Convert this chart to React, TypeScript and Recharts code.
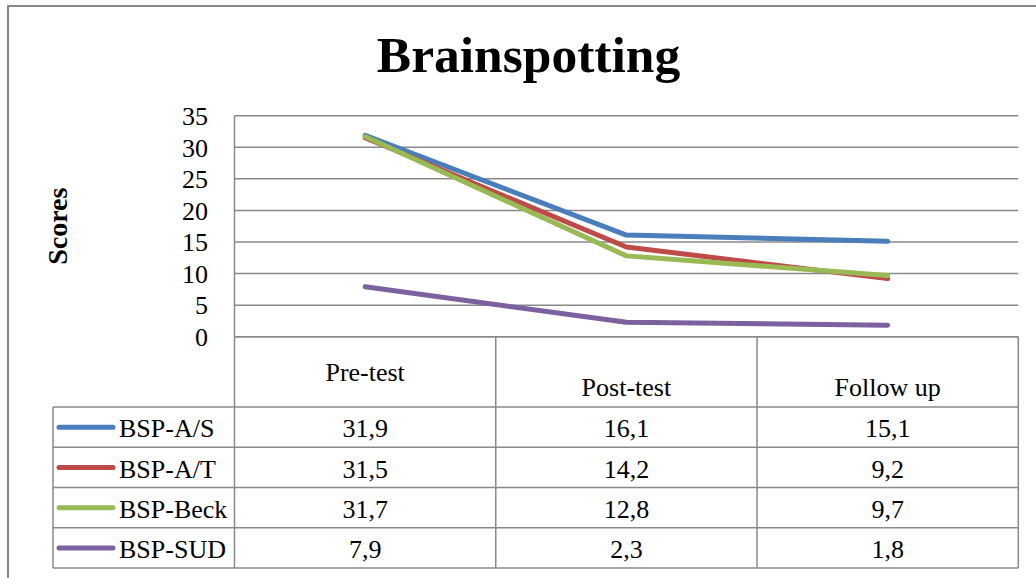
import { LineChart, Line, XAxis, YAxis, CartesianGrid } from "recharts";

const categories = ["Pre-test", "Post-test", "Follow up"];
const seriesNames = ["BSP-A/S", "BSP-A/T", "BSP-Beck", "BSP-SUD"];
const bspAS = [31.9, 16.1, 15.1];
const bspAT = [31.5, 14.2, 9.2];
const bspBeck = [31.7, 12.8, 9.7];
const bspSUD = [7.9, 2.3, 1.8];
const yTicks = [0, 5, 10, 15, 20, 25, 30, 35];

const seriesValues = [bspAS, bspAT, bspBeck, bspSUD];
const seriesKeys = ["as", "at", "beck", "sud"];
const colors = ["#4A7EBB", "#BE4B48", "#98B954", "#7D60A0"];

const data = categories.map((category, i) => {
  const row: Record<string, string | number> = { category };
  seriesKeys.forEach((k, s) => (row[k] = seriesValues[s][i]));
  return row;
});

// layout (px)
const W = 1036;
const H = 578;
const PLOT_LEFT = 234.5;
const PLOT_RIGHT = 1018.3;
const PLOT_TOP = 115.7;
const PLOT_BOTTOM = 336.7;
const TABLE_BOTTOM = 568;
const HEADER_BOTTOM = 407;
const LEGEND_LEFT = 53;
const ROW_H = (TABLE_BOTTOM - HEADER_BOTTOM) / seriesNames.length;
const BAND = (PLOT_RIGHT - PLOT_LEFT) / categories.length;
const XAXIS_H = TABLE_BOTTOM - PLOT_BOTTOM;

const FONT = '"Liberation Serif", "Times New Roman", serif';
const GRID = "#898989";

const fmt = (v: number) => v.toFixed(1).replace(".", ",");

const rowLines = [HEADER_BOTTOM, ...seriesNames.map((_, r) => HEADER_BOTTOM + ROW_H * (r + 1))];

const LegendColumn = () => (
  <g>
    <line x1={LEGEND_LEFT} y1={HEADER_BOTTOM} x2={LEGEND_LEFT} y2={TABLE_BOTTOM} stroke={GRID} strokeWidth={1.5} />
    {rowLines.map((y) => (
      <line key={y} x1={LEGEND_LEFT} y1={y} x2={PLOT_LEFT} y2={y} stroke={GRID} strokeWidth={1.5} />
    ))}
    {seriesNames.map((name, r) => {
      const cy = HEADER_BOTTOM + ROW_H * (r + 0.5);
      return (
        <g key={name}>
          <line x1={59} y1={cy} x2={113} y2={cy} stroke={colors[r]} strokeWidth={5} strokeLinecap="round" />
          <text x={119} y={HEADER_BOTTOM + ROW_H * (r + 1) - 10} fontFamily={FONT} fontSize={26} fill="#000">
            {name}
          </text>
        </g>
      );
    })}
  </g>
);

// one column of the data table under each category tick
const TableColumn = (props: any) => {
  const { x, index, payload } = props;
  const left = x - BAND / 2;
  const right = x + BAND / 2;
  return (
    <g>
      {index === 0 && <LegendColumn />}
      {index === 0 && (
        <line x1={left} y1={PLOT_BOTTOM} x2={left} y2={TABLE_BOTTOM} stroke={GRID} strokeWidth={1.5} />
      )}
      <line x1={right} y1={PLOT_BOTTOM} x2={right} y2={TABLE_BOTTOM} stroke={GRID} strokeWidth={1.5} />
      {rowLines.map((y) => (
        <line key={y} x1={left} y1={y} x2={right} y2={y} stroke={GRID} strokeWidth={1.5} />
      ))}
      <text x={x} y={index === 0 ? 381 : 396} textAnchor="middle" fontFamily={FONT} fontSize={26} fill="#000">
        {payload.value}
      </text>
      {seriesValues.map((vals, r) => (
        <text
          key={r}
          x={x}
          y={HEADER_BOTTOM + ROW_H * (r + 1) - 10}
          textAnchor="middle"
          fontFamily={FONT}
          fontSize={26}
          fill="#000"
        >
          {fmt(vals[index])}
        </text>
      ))}
    </g>
  );
};

const ScoresLabel = (props: any) => {
  const vb = props.viewBox || {};
  const cx = 57.5;
  const cy = (vb.y ?? PLOT_TOP) + (vb.height ?? PLOT_BOTTOM - PLOT_TOP) / 2;
  return (
    <text
      x={cx}
      y={cy}
      transform={`rotate(-90 ${cx} ${cy})`}
      textAnchor="middle"
      dominantBaseline="central"
      fontFamily={FONT}
      fontWeight="bold"
      fontSize={28}
      fill="#000"
    >
      Scores
    </text>
  );
};

export default function App() {
  return (
    <div style={{ position: "fixed", left: 0, top: 0, width: W, height: H, overflow: "hidden", background: "#fff" }}>
      <div
        style={{
          position: "absolute",
          left: 7,
          top: 5,
          width: 1200,
          height: 800,
          border: `2px solid ${GRID}`,
        }}
      />
      <svg style={{ position: "absolute", left: 0, top: 0 }} width={W} height={H}>
        <text x={528.5} y={72} textAnchor="middle" fontFamily={FONT} fontWeight="bold" fontSize={51.5} fill="#000">
          Brainspotting
        </text>
      </svg>
      <div style={{ position: "absolute", left: 0, top: 0 }}>
        <LineChart
          width={W}
          height={H}
          data={data}
          margin={{ top: PLOT_TOP, right: W - PLOT_RIGHT, left: 0, bottom: H - PLOT_BOTTOM - XAXIS_H }}
        >
          <CartesianGrid vertical={false} stroke={GRID} strokeWidth={1.5} strokeDasharray="" />
          <XAxis
            dataKey="category"
            height={XAXIS_H}
            padding={{ left: BAND / 2, right: BAND / 2 }}
            axisLine={{ stroke: GRID, strokeWidth: 1.5 }}
            tickLine={false}
            tick={TableColumn}
            interval={0}
          />
          <YAxis
            width={PLOT_LEFT}
            domain={[0, 35]}
            ticks={yTicks}
            interval={0}
            axisLine={{ stroke: GRID, strokeWidth: 1.5 }}
            tickLine={false}
            tickMargin={20.5}
            tick={{ fill: "#000", fontSize: 26, fontFamily: FONT }}
            label={ScoresLabel}
          />
          {seriesKeys.map((k, s) => (
            <Line
              key={k}
              type="linear"
              dataKey={k}
              name={seriesNames[s]}
              stroke={colors[s]}
              strokeWidth={5}
              strokeLinecap="round"
              strokeLinejoin="round"
              dot={false}
              activeDot={false}
              isAnimationActive={false}
            />
          ))}
        </LineChart>
      </div>
    </div>
  );
}
